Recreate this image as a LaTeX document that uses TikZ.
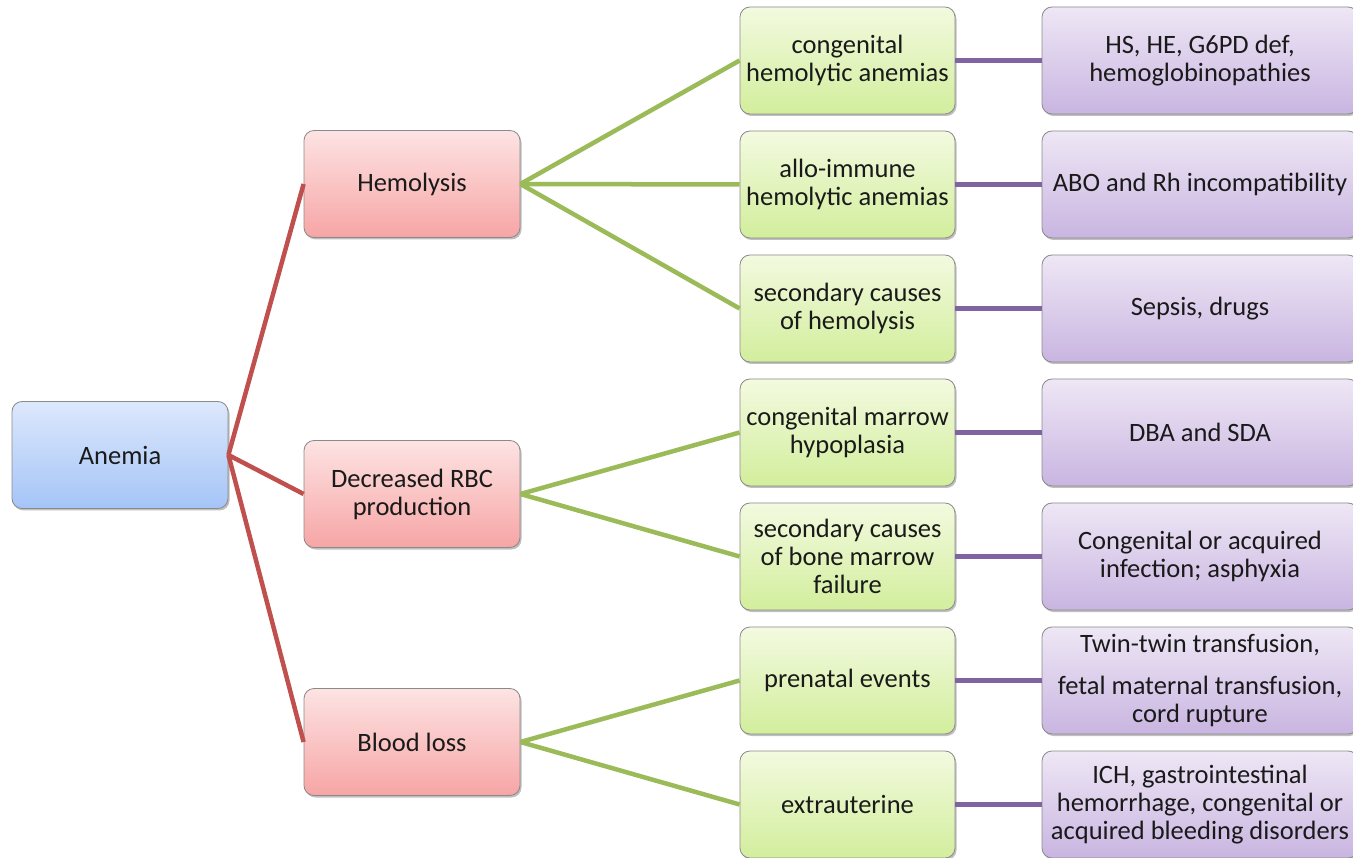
\documentclass[tikz,border=0pt]{standalone}
\usepackage{fontspec}
\setmainfont{Carlito}
\usetikzlibrary{shadows}
\definecolor{bluetop}{HTML}{DCE8FC}
\definecolor{bluebot}{HTML}{A5C4F7}
\definecolor{redtop}{HTML}{FDE3E3}
\definecolor{redbot}{HTML}{F7A5A5}
\definecolor{greentop}{HTML}{F3FAE0}
\definecolor{greenbot}{HTML}{D2EE9C}
\definecolor{purptop}{HTML}{EEE7F5}
\definecolor{purpbot}{HTML}{C9B5E1}
\definecolor{redline}{HTML}{C0504D}
\definecolor{greenline}{HTML}{9BBB59}
\definecolor{purpline}{HTML}{8064A2}
\definecolor{boxedge}{HTML}{8A8A8A}
\definecolor{txt}{HTML}{1A1A1A}
\tikzset{
  basebox/.style={draw=boxedge, line width=0.8pt, rounded corners=10pt,
    minimum height=107pt, align=center, inner sep=2pt,
    font=\fontsize{26.5}{28}\selectfont, text=txt,
    drop shadow={shadow xshift=1.5pt, shadow yshift=-2pt, opacity=0.25, fill=black}},
  bluebox/.style={basebox, minimum width=216pt, top color=bluetop, bottom color=bluebot},
  redbox/.style={basebox, minimum width=216pt, top color=redtop, bottom color=redbot},
  greenbox/.style={basebox, minimum width=215pt, top color=greentop, bottom color=greenbot},
  purpbox/.style={basebox, minimum width=316pt, top color=purptop, bottom color=purpbot},
  redconn/.style={draw=redline, line width=4.5pt},
  greenconn/.style={draw=greenline, line width=4.5pt},
  purpconn/.style={draw=purpline, line width=4.5pt}
}
\begin{document}
\begin{tikzpicture}[x=1pt, y=-1pt]
\useasboundingbox (0,0) rectangle (1353,858);
\clip (0,0) rectangle (1353,858);
% level 0
\node[bluebox] (A) at (120,455) {Anemia};
% level 1
\node[redbox] (H) at (412,184) {Hemolysis};
\node[redbox] (D) at (412,494) {Decreased RBC\\production};
\node[redbox] (B) at (412,742) {Blood loss};
% level 2
\node[greenbox] (g1) at (847.5,60.5) {congenital\\hemolytic anemias};
\node[greenbox] (g2) at (847.5,184.5) {allo-immune\\hemolytic anemias};
\node[greenbox] (g3) at (847.5,308.5) {secondary causes\\of hemolysis};
\node[greenbox] (g4) at (847.5,432.5) {congenital marrow\\hypoplasia};
\node[greenbox] (g5) at (847.5,556.5) {secondary causes\\of bone marrow\\failure};
\node[greenbox] (g6) at (847.5,680.5) {prenatal events};
\node[greenbox] (g7) at (847.5,804.5) {extrauterine};
% level 3
\node[purpbox] (p1) at (1200,60.5) {HS, HE, G6PD def,\\hemoglobinopathies};
\node[purpbox] (p2) at (1200,184.5) {ABO and Rh incompatibility};
\node[purpbox] (p3) at (1200,308.5) {Sepsis, drugs};
\node[purpbox] (p4) at (1200,432.5) {DBA and SDA};
\node[purpbox] (p5) at (1200,556.5) {Congenital or acquired\\infection; asphyxia};
\node[purpbox] (p6) at (1200,680.5) {Twin-twin transfusion,\\[14pt]fetal maternal transfusion,\\cord rupture};
\node[purpbox] (p7) at (1200,804.5) {ICH, gastrointestinal\\hemorrhage, congenital or\\acquired bleeding disorders};
% connectors
\draw[redconn] (A.east) -- (H.west);
\draw[redconn] (A.east) -- (D.west);
\draw[redconn] (A.east) -- (B.west);
\draw[greenconn] (H.east) -- (g1.west);
\draw[greenconn] (H.east) -- (g2.west);
\draw[greenconn] (H.east) -- (g3.west);
\draw[greenconn] (D.east) -- (g4.west);
\draw[greenconn] (D.east) -- (g5.west);
\draw[greenconn] (B.east) -- (g6.west);
\draw[greenconn] (B.east) -- (g7.west);
\draw[purpconn] (g1.east) -- (p1.west);
\draw[purpconn] (g2.east) -- (p2.west);
\draw[purpconn] (g3.east) -- (p3.west);
\draw[purpconn] (g4.east) -- (p4.west);
\draw[purpconn] (g5.east) -- (p5.west);
\draw[purpconn] (g6.east) -- (p6.west);
\draw[purpconn] (g7.east) -- (p7.west);
\end{tikzpicture}
\end{document}
